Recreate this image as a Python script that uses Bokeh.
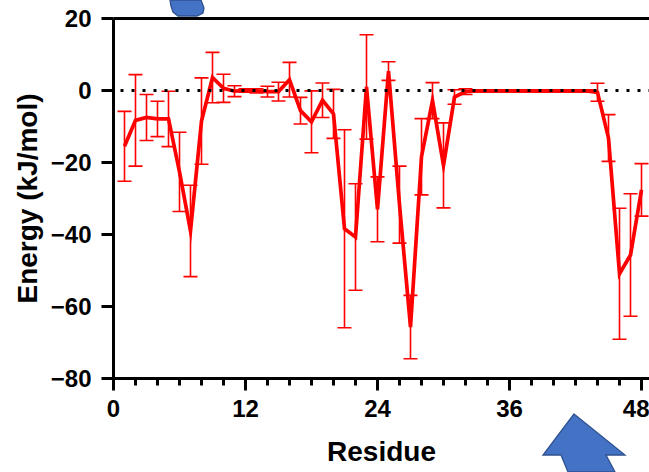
from bokeh.plotting import figure
from bokeh.models import (ColumnDataSource, Whisker, TeeHead, Span, Div,
                          SingleIntervalTicker, FixedTicker, LinearAxis, GridBox)
from bokeh.embed import file_html
from bokeh.resources import INLINE

residue = list(range(1, 49))
energy = [-15.5, -8.3, -7.5, -7.9, -7.9, -22.6, -39.0, -8.5, 3.6, 0.6,
          -0.2, 0.0, -0.1, -0.3, -0.3, 3.0, -5.6, -8.7, -2.7, -6.5,
          -38.4, -40.7, 1.0, -33.0, 5.4, -31.7, -65.7, -18.4, -2.8, -20.8,
          -1.8, -0.3, -0.1, -0.1, -0.1, -0.1, -0.1, -0.1, -0.1, -0.1,
          -0.1, -0.1, -0.1, -0.5, -13.2, -50.9, -45.7, -27.6]
error = [9.7, 12.7, 6.4, 4.9, 7.7, 11.0, 12.7, 12.0, 7.0, 3.9,
         1.5, 0.5, 0.6, 1.5, 2.6, 4.8, 3.7, 8.6, 4.8, 6.8,
         27.5, 14.8, 14.5, 9.0, 2.6, 10.7, 8.8, 10.6, 5.0, 11.8,
         2.0, 0.8, 0.3, 0.3, 0.3, 0.3, 0.3, 0.3, 0.3, 0.3,
         0.3, 0.3, 0.3, 2.5, 6.5, 18.2, 17.0, 7.3]
x_ticks_interval = 12
y_ticks_interval = 20

# decorative blue arrows (screenshot pixels)
arrow_xs = [[574, 625, 606, 615, 568, 561, 543],
            [170, 201, 204, 203, 197, 178, 173, 171]]
arrow_ys = [[414, 455, 455, 472, 472, 455, 455],
            [0, 0, 8, 13, 16, 16, 12, 6]]

lower = [e - s for e, s in zip(energy, error)]
upper = [e + s for e, s in zip(energy, error)]
src = ColumnDataSource(dict(x=residue, y=energy, lower=lower, upper=upper))

FONT = "Liberation Sans"
W, H = 649, 472

p = figure(width=W, height=H, x_range=(0, 48.727), y_range=(-80, 20),
           output_backend="svg", toolbar_location=None,
           min_border_left=113, min_border_right=0,
           min_border_top=18, min_border_bottom=94)
p.grid.visible = False
p.outline_line_color = None

# zero reference (dotted)
p.add_layout(Span(location=0, dimension="width", line_color="black",
                  line_width=3, line_dash="3 8", line_dash_offset=-7))

whisk = Whisker(base="x", lower="lower", upper="upper", source=src,
                line_color="red", line_width=1.6, level="glyph",
                upper_head=TeeHead(size=14, line_color="red", line_width=1.6),
                lower_head=TeeHead(size=14, line_color="red", line_width=1.6))
p.add_layout(whisk)
p.line("x", "y", source=src, line_color="red", line_width=3.7,
       line_join="miter")

for ax in (p.xaxis[0], p.yaxis[0]):
    ax.axis_line_width = 3
    ax.axis_line_color = "black"
    ax.major_tick_line_width = 3
    ax.major_tick_line_color = "black"
    ax.major_tick_in = 0
    ax.major_tick_out = 12
    ax.minor_tick_line_width = 3
    ax.minor_tick_line_color = "black"
    ax.minor_tick_in = 0
    ax.minor_tick_out = 7
    ax.major_label_text_font = FONT
    ax.major_label_text_font_size = "24px"
    ax.major_label_text_font_style = "bold"
    ax.major_label_text_color = "black"
    ax.axis_label_text_font = FONT
    ax.axis_label_text_font_size = "28px"
    ax.axis_label_text_font_style = "bold"
    ax.axis_label_text_color = "black"

p.xaxis.ticker = SingleIntervalTicker(interval=x_ticks_interval, num_minor_ticks=6)
p.yaxis.ticker = SingleIntervalTicker(interval=y_ticks_interval, num_minor_ticks=2)
p.yaxis.minor_tick_line_color = None
p.xaxis.axis_label = "Residue"
p.yaxis.axis_label = "Energy (kJ/mol)"
p.xaxis.major_label_standoff = 9
p.yaxis.major_label_standoff = 10
p.xaxis.axis_label_standoff = 16
p.yaxis.axis_label_standoff = 5

# top frame line as a bare axis
top = LinearAxis(ticker=FixedTicker(ticks=[]), axis_line_width=3,
                 axis_line_color="black", major_tick_out=0, major_tick_in=0,
                 minor_tick_out=0, minor_tick_in=0, major_label_standoff=0)
p.add_layout(top, "above")

# decorative arrows drawn in a transparent overlay on top of the plot
polys = "".join(
    '<polygon points="%s" fill="#4472C4" stroke="#2F528F" stroke-width="1.3"/>'
    % " ".join("%d,%d" % (x, y) for x, y in zip(xs, ys))
    for xs, ys in zip(arrow_xs, arrow_ys))
svg = ('<svg xmlns="http://www.w3.org/2000/svg" width="%d" height="%d" '
       'style="display:block">%s</svg>' % (W, H, polys))
ov = Div(text=svg, width=W, height=H, margin=(0, 0, 0, 0),
         styles={"padding": "0", "margin": "0", "pointer-events": "none"})

layout = GridBox(children=[(p, 0, 0), (ov, 0, 0)])
open("out.html", "w").write(file_html(layout, INLINE))
